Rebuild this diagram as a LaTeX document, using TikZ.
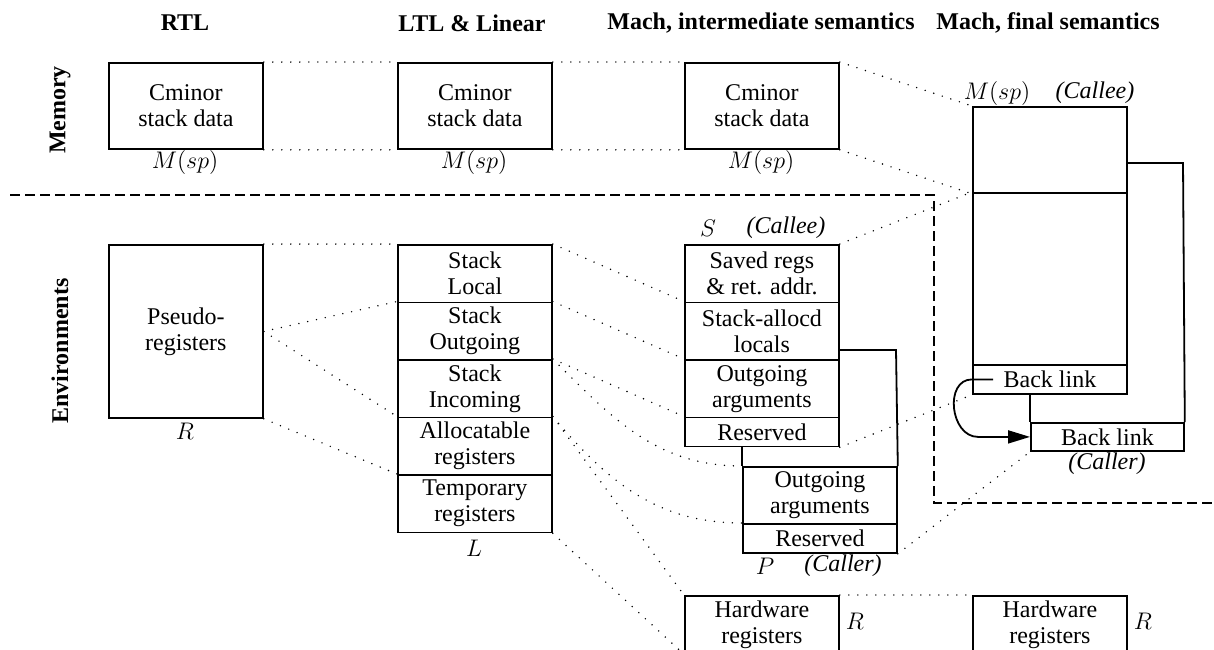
\documentclass[tikz,border=0pt]{standalone}
\usepackage{fontspec}
\setmainfont{Liberation Serif}
\usetikzlibrary{arrows.meta}
\begin{document}
\fontsize{12}{13}\selectfont
\begin{tikzpicture}[x=0.5pt,y=-0.5pt]
\tikzset{
 bx/.style={draw, line width=0.9pt, inner sep=0pt, anchor=north west, align=center, minimum width=77pt},
 memb/.style={bx, minimum height=43pt},
 rowb/.style={bx, minimum height=28.75pt},
 resb/.style={bx, minimum height=14.5pt},
 dotl/.style={line width=0.8pt, dash pattern=on 0pt off 4.5pt, line cap=round},
 frame/.style={line width=0.9pt},
 sepline/.style={line width=1.3pt, dash pattern=on 5pt off 2.5pt},
 hdr/.style={font=\bfseries, inner sep=0pt},
 side/.style={font=\bfseries, rotate=90, inner sep=0pt},
 lbl/.style={inner sep=0pt}
}
\useasboundingbox (0,0) rectangle (1214,649);
\clip (0,0) rectangle (1214,649);

% headers
\node[hdr] (hrtl) at (185,23) {RTL};
\node[hdr] (hltl) at (472,23) {LTL \& Linear};
\node[hdr] (hmi) at (761,23) {Mach, intermediate semantics};
\node[hdr] (hmf) at (1048,23) {Mach, final semantics};
\node[side] (smem) at (60,110) {Memory};
\node[side] (senv) at (60,351) {Environments};

% memory
\node[memb] (m1) at (108,62) {Cminor\\stack data};
\node[memb] (m2) at (397,62) {Cminor\\stack data};
\node[memb] (m3) at (684,62) {Cminor\\stack data};
\node[lbl] (ms1) at (185,162) {$M(sp)$};
\node[lbl] (ms2) at (474,162) {$M(sp)$};
\node[lbl] (ms3) at (761,162) {$M(sp)$};

% final semantics frames
\node[memb] (f1) at (972,106) {};
\node[bx, minimum height=86pt] (f2) at (972,192) {};
\node[resb] (fbl) at (972,364) {Back link};
\node[bx, minimum width=76.5pt, minimum height=14pt] (cbl) at (1030,422) {Back link};
\node[lbl] (fms) at (997,93) {$M(sp)$};
\node[lbl] (fce) at (1095,93) {\textit{(Callee)}};
\node[lbl] (fca) at (1107,464) {\textit{(Caller)}};
\coordinate (fr1) at (1126,163);
\coordinate (fr2) at (1183,163);
\draw[frame] (fr1) -- (fr2) -- (cbl.north east);
\draw[frame] (fbl.south -| cbl.north west) -- (cbl.north west);
\draw[frame, -{Triangle[length=11pt,width=6.5pt]}] ([xshift=10.5pt]fbl.west) -- (fbl.west)
  .. controls +(-28,0) and +(-28,0) .. ([xshift=-26pt]cbl.west) -- (cbl.west);

% RTL environment
\node[bx, minimum height=86.5pt] (p) at (108,244) {Pseudo-\\registers};
\node[lbl] (pr) at (185,431) {$R$};

% LTL
\node[rowb] (l1) at (397,244) {Stack\\Local};
\node[rowb] (l2) at (397,301.5) {Stack\\Outgoing};
\node[rowb] (l3) at (397,359) {Stack\\Incoming};
\node[rowb] (l4) at (397,416.5) {Allocatable\\registers};
\node[rowb] (l5) at (397,474) {Temporary\\registers};
\node[lbl] (ll) at (474,548) {$L$};

% Mach intermediate: callee
\node[rowb] (c1) at (684,244) {Saved regs\\\& ret. addr.};
\node[rowb] (c2) at (684,301.5) {Stack-allocd\\locals};
\node[rowb] (c3) at (684,359) {Outgoing\\arguments};
\node[resb] (c4) at (684,416.5) {Reserved};
\node[lbl] (cs) at (708,228) {$S$};
\node[lbl] (cce) at (786,228) {\textit{(Callee)}};

% Mach intermediate: caller
\node[bx, minimum height=28.5pt] (k1) at (742,466) {Outgoing\\arguments};
\node[resb] (k2) at (742,523) {Reserved};
\coordinate (kf1) at (896,350);
\draw[frame] (c2.east |- kf1) -- (kf1) -- (k1.north east);
\draw[frame] (c4.south -| k1.north west) -- (k1.north west);
\node[lbl] (kp) at (765,566) {$P$};
\node[lbl] (kca) at (843,566) {\textit{(Caller)}};

% hardware registers
\node[rowb] (h1) at (684,595) {Hardware\\registers};
\node[rowb] (h2) at (972,595) {Hardware\\registers};
\node[lbl] (hr1) at (855,621) {$R$};
\node[lbl] (hr2) at (1143,621) {$R$};

% separator
\draw[sepline] (10,195) -- (934,195) -- (934,503) -- (1214,503);

% dotted correspondences
\draw[dotl] (m1.north east) -- (m2.north west);
\draw[dotl] (m1.south east) -- (m2.south west);
\draw[dotl] (m2.north east) -- (m3.north west);
\draw[dotl] (m2.south east) -- (m3.south west);
\draw[dotl] (m3.north east) -- (f1.north west);
\draw[dotl] (m3.south east) -- (f1.south west);

\draw[dotl] (p.north east) -- (l1.north west);
\draw[dotl] (p.east) -- (l2.north west);
\draw[dotl] (p.east) -- (l4.north west);
\draw[dotl] (p.south east) -- (l5.north west);

\draw[dotl] (l1.north east) -- (c2.north west);
\draw[dotl] (l2.north east) -- (c3.north west);
\draw[dotl] (l3.north east) -- (c4.north west);
\draw[dotl] (l3.north east) to[out=-45, in=180] (k1.north west);
\draw[dotl] (l4.north east) to[out=-50, in=180] (k2.north west);
\draw[dotl] (l4.north east) -- (h1.north west);
\draw[dotl] (l5.south east) -- (h1.south west);

\draw[dotl] (c1.north east) -- (f2.north west);
\draw[dotl] (c4.south east) -- (fbl.south west);
\draw[dotl] (k2.south east) -- (cbl.south west);
\draw[dotl] (h1.north east) -- (h2.north west);
\end{tikzpicture}
\end{document}
